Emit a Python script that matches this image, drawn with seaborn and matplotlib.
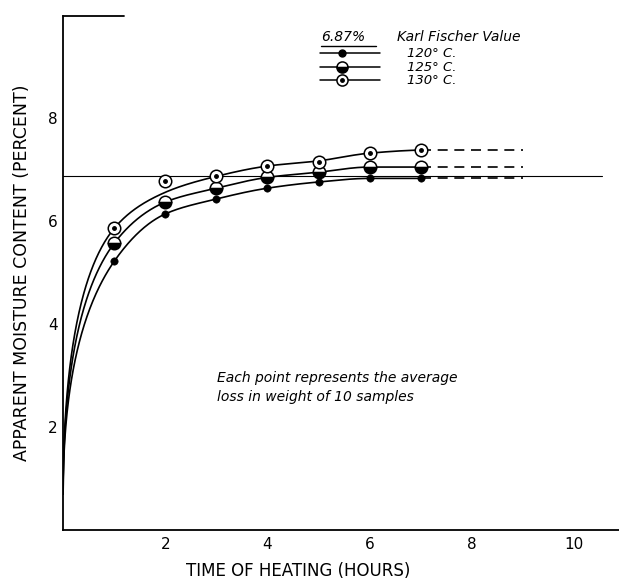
import numpy as np
import pandas as pd
import matplotlib
matplotlib.use("Agg")
import matplotlib.pyplot as plt
import seaborn as sns

# ---------------- data ----------------
hours = [1, 2, 3, 4, 5, 6, 7]
pts_120 = [5.22, 6.14, 6.43, 6.64, 6.76, 6.83, 6.83]
pts_125 = [5.57, 6.37, 6.64, 6.85, 6.95, 7.05, 7.05]
pts_130 = [5.86, 6.78, 6.87, 7.07, 7.15, 7.32, 7.38]

# hand-drawn curve positions read at each hour (0..7)
curve_hours = [0, 1, 2, 3, 4, 5, 6, 7]
curve_120 = [0.7, 5.22, 6.14, 6.43, 6.64, 6.76, 6.83, 6.83]
curve_125 = [0.7, 5.57, 6.37, 6.64, 6.85, 6.95, 7.05, 7.05]
curve_130 = [0.7, 5.86, 6.56, 6.87, 7.07, 7.17, 7.32, 7.38]

# dashed extrapolation ends
dash_end = 9.0
karl_fischer = 6.87

series_labels = ["120° C.", "125° C.", "130° C."]


def pchip(x, y, xn):
    x = np.asarray(x, float)
    y = np.asarray(y, float)
    h = np.diff(x)
    d = np.diff(y) / h
    n = len(x)
    m = np.zeros(n)
    for k in range(1, n - 1):
        if d[k - 1] * d[k] > 0:
            w1 = 2 * h[k] + h[k - 1]
            w2 = h[k] + 2 * h[k - 1]
            m[k] = (w1 + w2) / (w1 / d[k - 1] + w2 / d[k])
    m0 = ((2 * h[0] + h[1]) * d[0] - h[0] * d[1]) / (h[0] + h[1])
    m[0] = m0 if np.sign(m0) == np.sign(d[0]) else 0
    mn = ((2 * h[-1] + h[-2]) * d[-1] - h[-1] * d[-2]) / (h[-1] + h[-2])
    m[-1] = mn if np.sign(mn) == np.sign(d[-1]) else 0
    idx = np.clip(np.searchsorted(x, xn) - 1, 0, n - 2)
    t = (xn - x[idx]) / h[idx]
    h00 = 2 * t**3 - 3 * t**2 + 1
    h10 = t**3 - 2 * t**2 + t
    h01 = -2 * t**3 + 3 * t**2
    h11 = t**3 - t**2
    return h00 * y[idx] + h10 * h[idx] * m[idx] + h01 * y[idx + 1] + h11 * h[idx] * m[idx + 1]


sns.set_theme(style="white")
plt.rcParams["font.family"] = ["DejaVu Sans"]
plt.rcParams["text.color"] = "black"

fig = plt.figure(figsize=(6.19, 5.79), dpi=100)
ax = fig.add_axes([0.102, 0.0846, 0.898, 0.8874])

# smooth curves (drawn in sqrt-time space, like the hand-drawn french curve)
u = np.sqrt(np.array(curve_hours, float))
un = np.linspace(0, u[-1], 400)
rows = []
for lab, cv in zip(series_labels, [curve_120, curve_125, curve_130]):
    yy = pchip(u, cv, un)
    for a, b in zip(un**2, yy):
        rows.append({"t": a, "v": b, "s": lab})
curves = pd.DataFrame(rows)
sns.lineplot(data=curves, x="t", y="v", units="s", estimator=None,
             color="black", lw=1.2, ax=ax, sort=False)

# dashed extensions
for cv in [curve_120, curve_125, curve_130]:
    ax.plot([curve_hours[-1], dash_end], [cv[-1], cv[-1]], color="black",
            lw=1.2, dashes=(6, 4))

# Karl Fischer reference line
ax.axhline(karl_fischer, xmin=0, xmax=0.97, color="black", lw=0.8)

# markers
df = pd.DataFrame({"t": hours, "a": pts_120, "b": pts_125, "c": pts_130})
sns.scatterplot(data=df, x="t", y="a", marker="o", s=28, color="black",
                edgecolor="black", ax=ax, zorder=5)
ax.plot(df["t"], df["b"], ls="none", marker="o", ms=9, fillstyle="bottom",
        markerfacecolor="black", markerfacecoloralt="white",
        markeredgecolor="black", mew=1.1, zorder=5)
ax.plot(df["t"], df["c"], ls="none", marker="o", ms=9, markerfacecolor="white",
        markeredgecolor="black", mew=1.1, zorder=5)
ax.plot(df["t"], df["c"], ls="none", marker="o", ms=2.5, color="black", zorder=6)

# axes styling
ax.set_xlim(0, 10.88)
ax.set_ylim(0, 9.98)
ax.set_xticks(range(1, 11))
ax.set_xticklabels(["" if i % 2 else str(i) for i in range(1, 11)])
ax.set_yticks(range(1, 10))
ax.set_yticklabels(["" if i % 2 else str(i) for i in range(1, 10)])
ax.tick_params(axis="both", direction="in", length=7, width=1.2,
               labelsize=11, colors="black", labelcolor="black", pad=4)
ax.tick_params(axis="x", pad=5)
for sp in ["top", "right"]:
    ax.spines[sp].set_visible(False)
for sp in ["left", "bottom"]:
    ax.spines[sp].set_color("black")
    ax.spines[sp].set_linewidth(1.3)
ax.plot([0, 1.2], [9.98, 9.98], color="black", lw=1.3, clip_on=False)

ax.set_xlabel("TIME OF HEATING (HOURS)", fontsize=12, color="black")
ax.xaxis.set_label_coords(0.423, -0.062)
ax.set_ylabel("APPARENT MOISTURE CONTENT (PERCENT)", fontsize=12.5,
              labelpad=12, color="black")

# legend (hand lettered block)
fs = 10
ax.text(5.05, 9.57, "6.87%", fontsize=fs, style="italic", va="center", color="black")
ax.plot([5.05, 6.12], [9.41, 9.41], color="black", lw=1.0)
ax.text(6.53, 9.57, "Karl Fischer Value", fontsize=fs, style="italic",
        va="center", color="black")
leg_y = [9.26, 8.99, 8.74]
for yy, lab in zip(leg_y, series_labels):
    ax.plot([5.02, 6.2], [yy, yy], color="black", lw=1.1)
    ax.text(6.73, yy, lab, fontsize=9.5, style="italic", va="center", color="black")
ax.plot([5.45], [leg_y[0]], marker="o", ms=5, color="black")
ax.plot([5.45], [leg_y[1]], marker="o", ms=8, fillstyle="bottom",
        markerfacecolor="black", markerfacecoloralt="white",
        markeredgecolor="black", mew=1.1)
ax.plot([5.45], [leg_y[2]], marker="o", ms=8, markerfacecolor="white",
        markeredgecolor="black", mew=1.1)
ax.plot([5.45], [leg_y[2]], marker="o", ms=2.5, color="black")

ax.text(3.02, 2.95, "Each point represents the average", fontsize=10,
        style="italic", va="center", color="black")
ax.text(3.02, 2.58, "loss in weight of 10 samples", fontsize=10,
        style="italic", va="center", color="black")

fig.savefig("out.png", dpi=100)
